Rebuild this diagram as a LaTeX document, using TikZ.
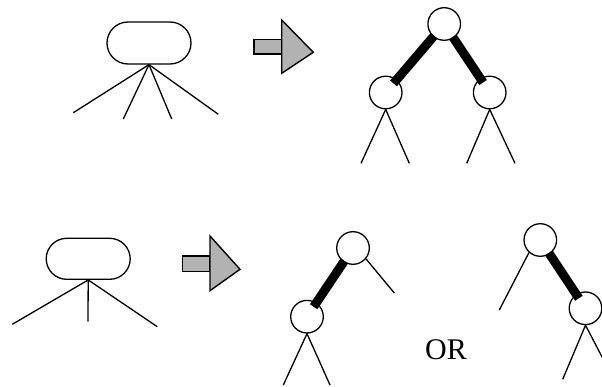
\documentclass[tikz,border=0pt]{standalone}
\usepackage{fontspec}
\setmainfont{Liberation Serif}
\usetikzlibrary{shapes.misc,calc}
\begin{document}
\begin{tikzpicture}[x=1pt,y=-1pt,
  thin line/.style={line width=1.3pt},
  blob/.style={draw,thin line,rounded rectangle,minimum width=84pt,minimum height=42pt,inner sep=0pt},
  vertex/.style={draw,thin line,circle,fill=white,minimum size=32.6pt,inner sep=0pt},
  heavy/.style={line width=9pt,line cap=butt},
  shaft/.style={draw,line width=1.4pt,fill=gray!60},
]
\useasboundingbox (0,0) rectangle (602,387);

% ---- upper row: node with four subtrees
\node[blob] (b1) at (149,43) {};
\coordinate (b1l1) at (73.3,112.7);
\coordinate (b1l2) at (123.3,119);
\coordinate (b1l3) at (171.7,119);
\coordinate (b1l4) at (218.3,114.3);
\foreach \i in {1,...,4} \draw[thin line] (b1.south) -- (b1l\i);

% transformation arrow
\filldraw[shaft] (254,39.3) rectangle (281.7,54);
\filldraw[shaft,line join=miter] (281.7,20) -- (313.3,52.3) -- (281.7,73.3) -- cycle;

% balanced binary tree
\node[vertex] (t) at (444.2,24) {};
\node[vertex] (tl) at (385.7,92.5) {};
\node[vertex] (tr) at (489.7,92.5) {};
\draw[heavy] ($(t)!15.5pt!(tl)$) -- ($(tl)!12pt!(t)$);
\draw[heavy] ($(t)!15.5pt!(tr)$) -- ($(tr)!12pt!(t)$);
\coordinate (tl1) at (361,163.3);
\coordinate (tl2) at (409.3,163.3);
\coordinate (tr1) at (466.7,163.3);
\coordinate (tr2) at (515,163.3);
\draw[thin line] (tl1) -- (tl.south) -- (tl2);
\draw[thin line] (tr1) -- (tr.south) -- (tr2);

% ---- lower row: node with three subtrees
\node[blob,minimum height=41pt] (b2) at (88.2,258.8) {};
\coordinate (b2l1) at (12.3,324.3);
\coordinate (b2l2) at (88,321.7);
\coordinate (b2l3) at (157.3,326.7);
\foreach \i in {1,...,3} \draw[thin line] (b2.south) -- (b2l\i);

% transformation arrow
\filldraw[shaft] (182.3,256) rectangle (210,271.7);
\filldraw[shaft,line join=miter] (210,236) -- (240,269.3) -- (210,290.7) -- cycle;

% left-leaning alternative
\node[vertex] (p) at (353,248) {};
\node[vertex] (pl) at (307,316.7) {};
\draw[heavy] ($(p)!15.5pt!(pl)$) -- ($(pl)!12pt!(p)$);
\coordinate (pr) at (394.3,293);
\draw[thin line] (p.-40) -- (pr);
\coordinate (pl1) at (283.3,385);
\coordinate (pl2) at (330,385);
\draw[thin line] (pl1) -- (pl.south) -- (pl2);

% connective
\node[font=\fontsize{30}{30}\selectfont,inner sep=0pt] (or) at (446,350) {OR};

% right-leaning alternative
\node[vertex] (q) at (540.3,240) {};
\node[vertex] (qr) at (585.5,308.3) {};
\draw[heavy] ($(q)!15.5pt!(qr)$) -- ($(qr)!12pt!(q)$);
\coordinate (ql) at (499.3,310);
\draw[thin line] (q.-132) -- (ql);
\coordinate (qr1) at (562.7,379.3);
\coordinate (qr2) at (613.7,379.3);
\draw[thin line] (qr1) -- (qr.south) -- (qr2);
\end{tikzpicture}
\end{document}
